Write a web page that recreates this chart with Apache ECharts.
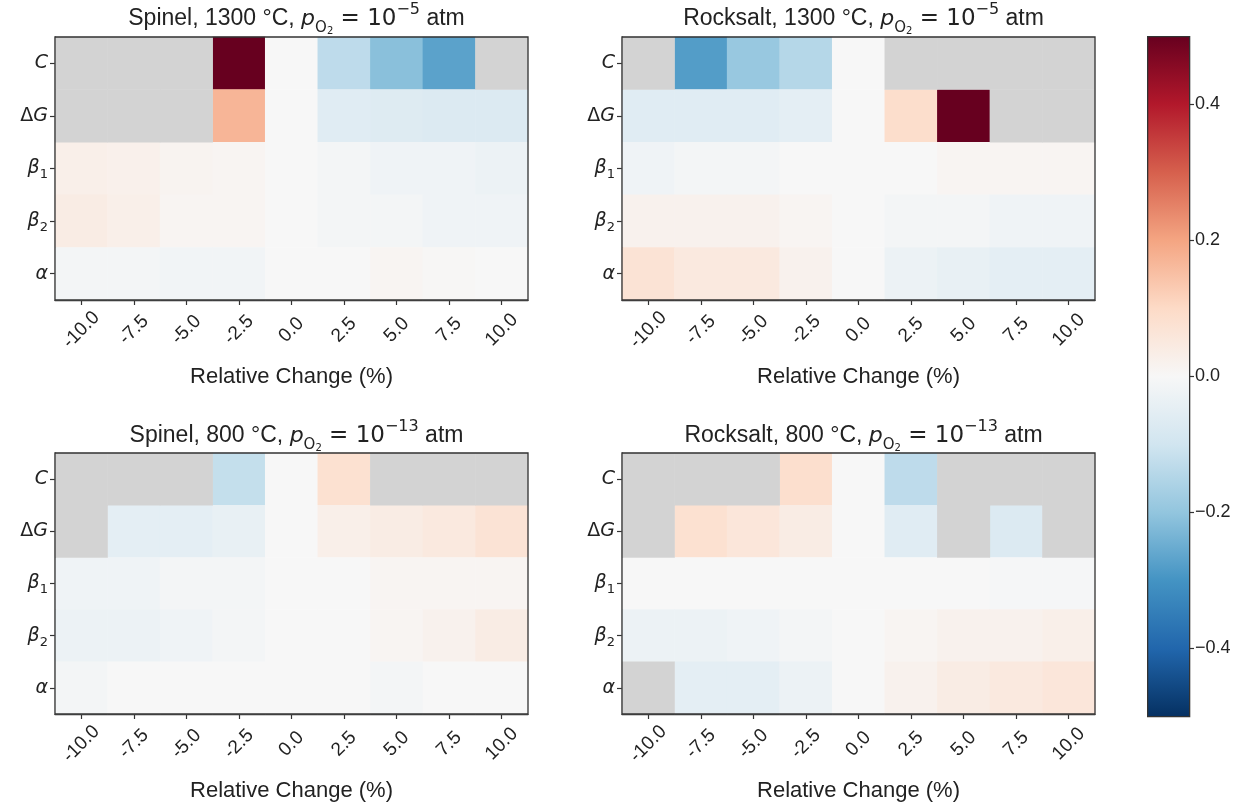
<!DOCTYPE html>
<html>
<head>
<meta charset="utf-8">
<script src="https://cdn.jsdelivr.net/npm/echarts@6/dist/echarts.min.js"></script>
<style>
html,body{margin:0;padding:0;background:#fff;}
#chart{width:1253px;height:809px;}
</style>
</head>
<body>
<div id="chart"></div>
<script>
// ---- data ----
const relChange = ['-10.0','-7.5','-5.0','-2.5','0.0','2.5','5.0','7.5','10.0'];
const params = ['C','ΔG','β1','β2','α'];
const cbarTicks = [-0.4, -0.2, 0.0, 0.2, 0.4];
// rows: C, ΔG, β1, β2, α ; null = not available (gray)
const spinel1300 = [
  [null, null, null, 0.55, 0, -0.13, -0.21, -0.27, null],
  [null, null, null, 0.17, 0, -0.06, -0.065, -0.07, -0.07],
  [0.03, 0.025, 0.015, 0.01, 0, -0.01, -0.02, -0.02, -0.03],
  [0.04, 0.03, 0.01, 0.01, 0, -0.01, -0.01, -0.02, -0.02],
  [-0.01, -0.01, -0.015, -0.015, 0, 0.0, 0.01, 0.005, 0.0]
];
const rocksalt1300 = [
  [null, -0.28, -0.19, -0.145, 0, null, null, null, null],
  [-0.06, -0.06, -0.06, -0.05, 0, 0.09, 0.55, null, null],
  [-0.02, -0.01, -0.01, 0, 0, 0, 0.01, 0.01, 0.01],
  [0.02, 0.02, 0.02, 0.01, 0, -0.01, -0.01, -0.02, -0.02],
  [0.07, 0.05, 0.05, 0.02, 0, -0.03, -0.04, -0.05, -0.05]
];
const spinel800 = [
  [null, null, null, -0.12, 0, 0.08, null, null, null],
  [null, -0.05, -0.05, -0.04, 0, 0.03, 0.04, 0.05, 0.07],
  [-0.02, -0.02, -0.01, -0.01, 0, 0.0, 0.01, 0.01, 0.01],
  [-0.03, -0.03, -0.02, -0.01, 0, 0, 0.01, 0.02, 0.04],
  [-0.01, 0, 0, 0, 0, 0, -0.01, 0, 0]
];
const rocksalt800 = [
  [null, null, null, 0.085, 0, -0.13, null, null, null],
  [null, 0.08, 0.06, 0.04, 0, -0.06, null, -0.07, null],
  [0, 0, 0, 0, 0, 0, 0, -0.005, -0.005],
  [-0.03, -0.03, -0.02, -0.01, 0, 0.01, 0.02, 0.02, 0.03],
  [null, -0.05, -0.05, -0.03, 0, 0.02, 0.04, 0.05, 0.06]
];
const panelData = [spinel1300, rocksalt1300, spinel800, rocksalt800];
const panelNames = ['Spinel', 'Rocksalt', 'Spinel', 'Rocksalt'];
const panelTemps = ['1300', '1300', '800', '800'];
const panelExps = ['−5', '−5', '−13', '−13'];

// ---- style / layout ----
const RdBu = ['#053061','#2166ac','#4393c3','#92c5de','#d1e5f0','#f7f7f7','#fddbc7','#f4a582','#d6604d','#b2182b','#67001f'];
const grids = [
  {left: 55, top: 37, width: 473, height: 263},
  {left: 622, top: 37, width: 473, height: 263},
  {left: 55, top: 453, width: 473, height: 261},
  {left: 622, top: 453, width: 473, height: 261}
];
const titleY = [-3, -3, 414, 414];
const AX = '#333333';
const TXT = '#222222';
const SANS = 'Liberation Sans, Arial, sans-serif';
const MATH = 'DejaVu Sans';

function yLabel(v) {
  if (v === 'C') return '{i|C}';
  if (v === 'ΔG') return '{n|Δ}{i|G}';
  if (v === 'β1') return '{i|β}{s|1}';
  if (v === 'β2') return '{i|β}{s|2}';
  if (v === 'α') return '{i|α}';
  return v;
}
const yRich = {
  i: {fontFamily: MATH, fontStyle: 'italic', fontSize: 19, color: TXT, lineHeight: 26},
  n: {fontFamily: MATH, fontSize: 19, color: TXT, lineHeight: 26},
  s: {fontFamily: MATH, fontSize: 13, color: TXT, verticalAlign: 'bottom', lineHeight: 26}
};

const option = {
  backgroundColor: '#ffffff',
  animation: false,
  title: [],
  grid: [],
  xAxis: [],
  yAxis: [],
  series: [],
  visualMap: {
    show: false, type: 'continuous', min: -0.5, max: 0.5,
    seriesIndex: [0, 2, 4, 6],
    inRange: {color: RdBu}
  },
  graphic: []
};

panelData.forEach(function (arr, k) {
  const g = grids[k];
  option.grid.push(Object.assign({show: true, borderColor: AX, borderWidth: 1.3, backgroundColor: 'transparent', z: 5}, g));
  option.title.push({
    text: '{t|' + panelNames[k] + ', ' + panelTemps[k] + ' °C, }{p|p}{sub|O}{ss|2}{m| = 10}{sup|' + panelExps[k] + '}{t| atm}',
    left: g.left + g.width / 2,
    top: titleY[k],
    textAlign: 'center',
    textStyle: {
      fontWeight: 'normal',
      rich: {
        t: {fontFamily: SANS, fontSize: 23, fontWeight: 'normal', color: TXT, lineHeight: 34},
        p: {fontFamily: MATH, fontStyle: 'italic', fontWeight: 'normal', fontSize: 22, color: TXT, lineHeight: 34},
        sub: {fontFamily: MATH, fontSize: 15, fontWeight: 'normal', color: TXT, verticalAlign: 'bottom', lineHeight: 34},
        ss: {fontFamily: MATH, fontSize: 10, fontWeight: 'normal', color: TXT, verticalAlign: 'bottom', lineHeight: 34},
        m: {fontFamily: MATH, fontSize: 23, fontWeight: 'normal', color: TXT, lineHeight: 34},
        sup: {fontFamily: MATH, fontSize: 16, fontWeight: 'normal', color: TXT, verticalAlign: 'top', lineHeight: 34}
      }
    }
  });
  option.xAxis.push({
    type: 'category', gridIndex: k, data: relChange,
    name: 'Relative Change (%)', nameLocation: 'middle', nameGap: 66,
    nameTextStyle: {fontFamily: SANS, fontSize: 22, color: TXT},
    axisLine: {show: true, lineStyle: {color: AX, width: 1.3}},
    axisTick: {show: true, alignWithLabel: true, length: 5, lineStyle: {color: AX, width: 1.2}},
    axisLabel: {rotate: 45, align: 'center', verticalAlign: 'middle', fontFamily: SANS, fontSize: 19, color: TXT, margin: 30, interval: 0},
    splitLine: {show: false}
  });
  option.yAxis.push({
    type: 'category', gridIndex: k, data: params, inverse: true,
    axisLine: {show: true, lineStyle: {color: AX, width: 1.3}},
    axisTick: {show: true, alignWithLabel: true, length: 5, lineStyle: {color: AX, width: 1.2}},
    axisLabel: {formatter: yLabel, rich: yRich, margin: 7, interval: 0},
    splitLine: {show: false}
  });
  const vals = [], gray = [];
  arr.forEach(function (row, r) {
    row.forEach(function (v, c) {
      if (v === null) gray.push([c, r, 1]);
      else vals.push([c, r, v]);
    });
  });
  option.series.push({
    type: 'heatmap', xAxisIndex: k, yAxisIndex: k, data: vals,
    emphasis: {disabled: true}, itemStyle: {borderWidth: 0}
  });
  option.series.push({
    type: 'heatmap', xAxisIndex: k, yAxisIndex: k, data: gray,
    emphasis: {disabled: true}, itemStyle: {color: '#d3d3d3', borderWidth: 0}
  });
});

// colorbar
const cb = {left: 1147, top: 36, width: 42, height: 680};
option.grid.push(Object.assign({show: false}, cb));
option.xAxis.push({type: 'category', gridIndex: 4, data: [''], show: false});
option.yAxis.push({
  type: 'value', gridIndex: 4, position: 'right', min: -0.5, max: 0.5,
  axisLine: {show: false},
  splitLine: {show: false},
  axisTick: {show: true, length: 5, customValues: cbarTicks, lineStyle: {color: AX, width: 1.2}},
  axisLabel: {
    show: true, customValues: cbarTicks, margin: 6,
    fontFamily: SANS, fontSize: 18, color: TXT,
    formatter: function (v) { return (v < 0 ? '−' : '') + Math.abs(v).toFixed(1); }
  }
});
option.graphic.push({
  type: 'rect', left: cb.left, top: cb.top, z: 10,
  shape: {width: cb.width, height: cb.height},
  style: {
    fill: {
      type: 'linear', x: 0, y: 0, x2: 0, y2: 1,
      colorStops: RdBu.slice().reverse().map(function (c, i) { return {offset: i / 10, color: c}; })
    },
    stroke: AX, lineWidth: 1.3
  }
});

const chart = echarts.init(document.getElementById('chart'), null, {renderer: 'canvas'});
chart.setOption(option);
</script>
</body>
</html>
